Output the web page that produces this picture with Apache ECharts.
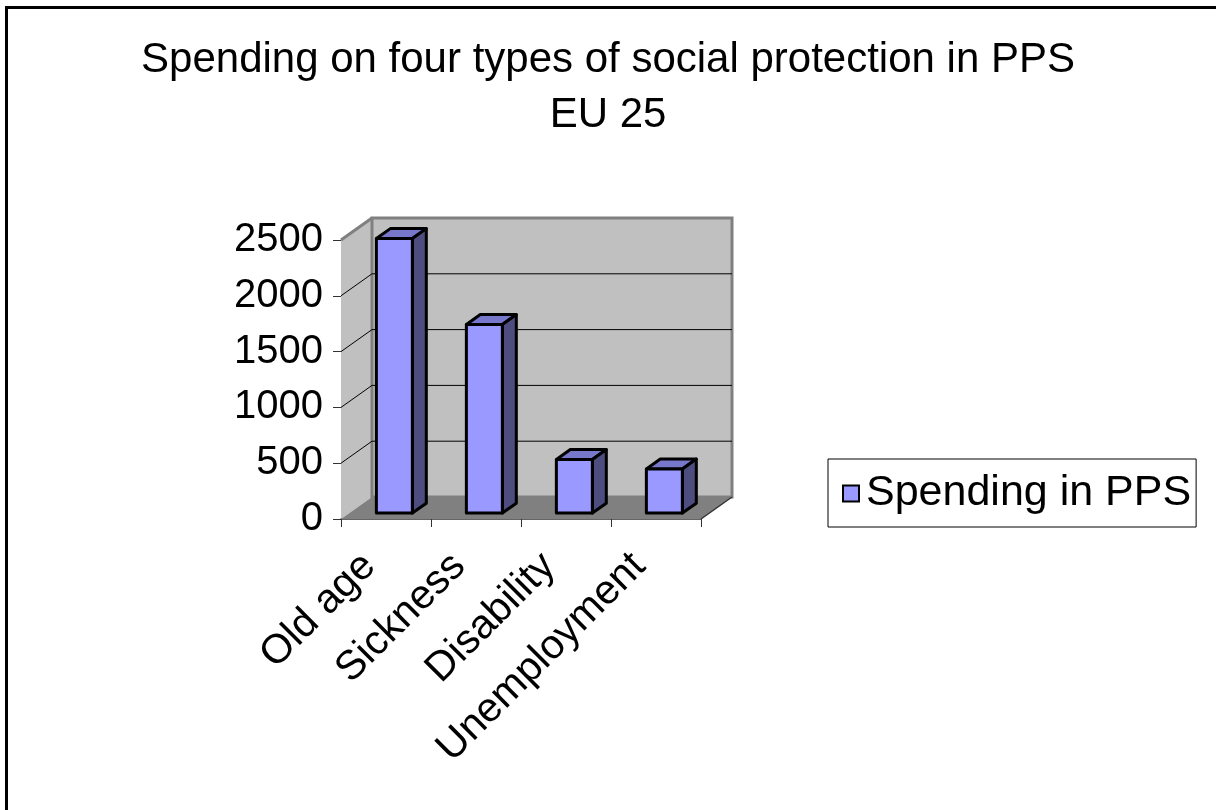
<!DOCTYPE html>
<html>
<head>
<meta charset="utf-8">
<script src="https://cdn.jsdelivr.net/npm/echarts@6/dist/echarts.min.js"></script>
<style>
  html, body { margin: 0; padding: 0; background: #ffffff; }
  #chart { width: 1216px; height: 810px; }
</style>
</head>
<body>
<div id="chart"></div>
<script>
// Chart data
const categories = ['Old age', 'Sickness', 'Disability', 'Unemployment'];
const spending = [2460, 1690, 480, 395];
const yTicks = [0, 500, 1000, 1500, 2000, 2500];
const seriesName = 'Spending in PPS';
const titleLines = ['Spending on four types of social protection in PPS', 'EU 25'];

// Oblique depth of the 3D box, in pixels
const DX = 31, DY = -22;
// Depth band occupied by the bars (fraction of full depth)
const D0 = 0.27, D1 = 0.72;
const FONT = '"Liberation Sans", Arial, sans-serif';

const chart = echarts.init(document.getElementById('chart'), null, { renderer: 'canvas' });

function renderWalls(params, api) {
  const cs = params.coordSys;
  const x0 = cs.x, x1 = cs.x + cs.width;
  const yOf = v => api.coord([0, v])[1];
  const yMin = yOf(yTicks[0]);
  const yMax = yOf(yTicks[yTicks.length - 1]);
  const children = [];
  // side wall
  children.push({ type: 'polygon', shape: { points: [[x0, yMax], [x0 + DX, yMax + DY], [x0 + DX, yMin + DY], [x0, yMin]] },
    style: { fill: '#c0c0c0', stroke: null } });
  // floor
  children.push({ type: 'polygon', shape: { points: [[x0, yMin], [x1, yMin], [x1 + DX, yMin + DY], [x0 + DX, yMin + DY]] },
    style: { fill: '#808080', stroke: null } });
  // back wall
  children.push({ type: 'rect', shape: { x: x0 + DX, y: yMax + DY, width: x1 - x0, height: yMin - yMax },
    style: { fill: '#c0c0c0', stroke: '#808080', lineWidth: 3 } });
  // gridlines on back and side walls
  yTicks.slice(1, -1).forEach(v => {
    const y = yOf(v);
    children.push({ type: 'line', shape: { x1: x0 + DX, y1: y + DY, x2: x1 + DX, y2: y + DY }, style: { stroke: '#000', lineWidth: 1 } });
    children.push({ type: 'line', shape: { x1: x0, y1: y, x2: x0 + DX, y2: y + DY }, style: { stroke: '#000', lineWidth: 1 } });
  });
  // side wall top edge
  children.push({ type: 'line', shape: { x1: x0, y1: yMax, x2: x0 + DX, y2: yMax + DY }, style: { stroke: '#808080', lineWidth: 3 } });
  // floor right edge
  children.push({ type: 'line', shape: { x1: x1, y1: yMin, x2: x1 + DX, y2: yMin + DY }, style: { stroke: '#333', lineWidth: 1.5 } });
  return { type: 'group', children };
}

function renderBar(params, api) {
  const idx = api.value(0), val = api.value(1);
  const top = api.coord([idx, val]);
  const base = api.coord([idx, 0]);
  const band = api.size([1, 0])[0];
  const w = band * 0.4;
  const l = top[0] - w / 2 + D0 * DX;
  const r = l + w;
  const t = top[1] + D0 * DY;
  const b = base[1] + D0 * DY;
  const ox = (D1 - D0) * DX, oy = (D1 - D0) * DY;
  const stroke = { stroke: '#000', lineWidth: 3, lineJoin: 'round' };
  return {
    type: 'group',
    children: [
      { type: 'polygon', shape: { points: [[l, t], [r, t], [r + ox, t + oy], [l + ox, t + oy]] }, style: Object.assign({ fill: '#7777cc' }, stroke) },
      { type: 'polygon', shape: { points: [[r, t], [r + ox, t + oy], [r + ox, b + oy], [r, b]] }, style: Object.assign({ fill: '#4d4d80' }, stroke) },
      { type: 'rect', shape: { x: l, y: t, width: w, height: b - t }, style: Object.assign({ fill: '#9999ff' }, stroke) }
    ]
  };
}

const option = {
  backgroundColor: '#ffffff',
  animation: false,
  title: {
    text: titleLines.join('\n'),
    left: 'center',
    top: 28,
    textStyle: { fontFamily: FONT, fontSize: 42, fontWeight: 'normal', color: '#000', lineHeight: 55 }
  },
  legend: {
    left: 828,
    top: 459,
    orient: 'vertical',
    padding: [13, 5, 12, 14],
    itemWidth: 16,
    itemHeight: 16,
    itemGap: 0,
    borderColor: '#000',
    borderWidth: 1,
    data: [{ name: seriesName, icon: 'rect', itemStyle: { color: '#9999ff', borderColor: '#000', borderWidth: 2 } }],
    textStyle: { fontFamily: FONT, fontSize: 43, color: '#000', padding: [0, 0, 0, 2] }
  },
  grid: { left: 341, top: 240, width: 360, height: 279, containLabel: false },
  xAxis: {
    type: 'category',
    data: categories,
    boundaryGap: true,
    axisLine: { lineStyle: { color: '#333', width: 1.5 } },
    axisTick: { show: true, length: 8, lineStyle: { color: '#333' } },
    axisLabel: { interval: 0, rotate: 45, fontFamily: FONT, fontSize: 41, color: '#000', margin: 24, padding: [0, 24, 0, 0] },
    splitLine: { show: false }
  },
  yAxis: {
    type: 'value',
    min: 0,
    max: 2500,
    interval: 500,
    axisLine: { show: true, lineStyle: { color: '#555', width: 1 } },
    axisTick: { show: true, length: 8, lineStyle: { color: '#333' } },
    axisLabel: { fontFamily: FONT, fontSize: 40, color: '#000', margin: 18, formatter: v => String(v) },
    splitLine: { show: false }
  },
  graphic: [
    { type: 'rect', z: 100, shape: { x: 6.5, y: 7.5, width: 1400, height: 1000 }, style: { fill: null, stroke: '#000', lineWidth: 3 } }
  ],
  series: [
    {
      type: 'custom',
      name: 'walls',
      renderItem: renderWalls,
      data: [[0, 0]],
      z: 1,
      silent: true
    },
    {
      type: 'custom',
      name: seriesName,
      renderItem: renderBar,
      itemStyle: { color: '#9999ff' },
      data: spending.map((v, i) => [i, v]),
      z: 3
    }
  ]
};

chart.setOption(option);
</script>
</body>
</html>
